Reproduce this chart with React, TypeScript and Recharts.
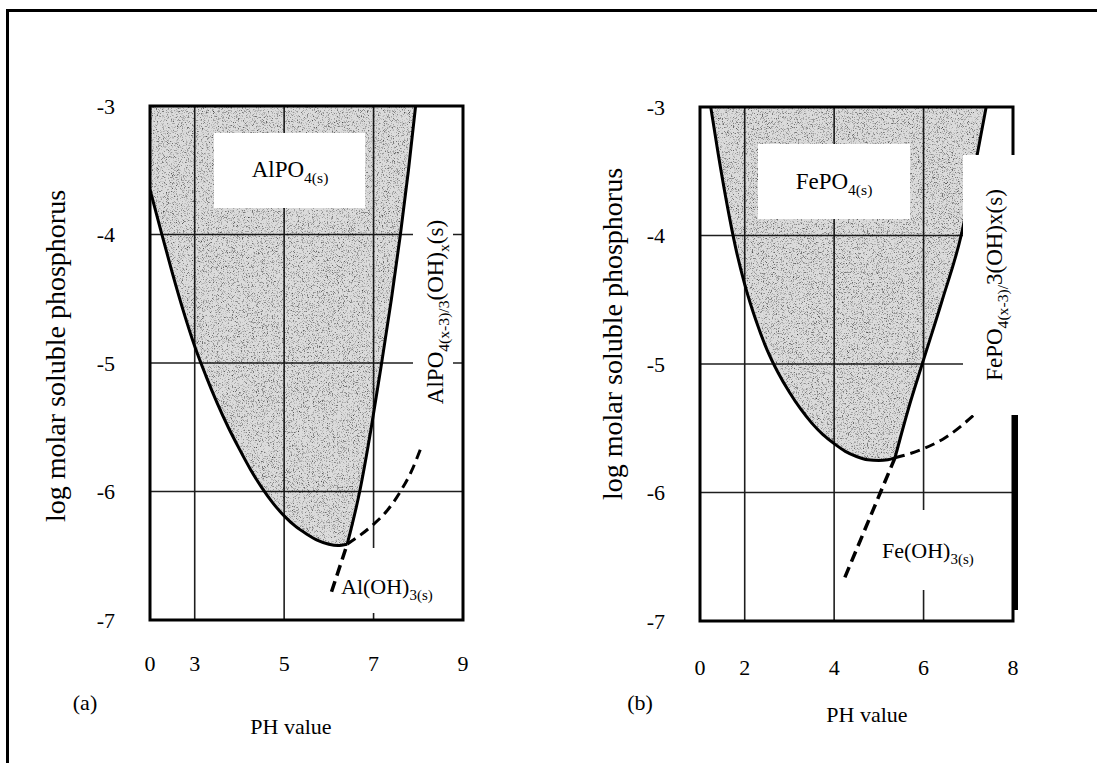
import React from 'react';
import {
  ComposedChart,
  Line,
  Area,
  XAxis,
  YAxis,
  CartesianGrid,
  ReferenceArea,
} from 'recharts';

const SERIF = "'Liberation Serif', 'Times New Roman', Times, serif";

// ---- shared axis values ----
const yTicks = [-7, -6, -5, -4, -3];
const yDomain: [number, number] = [-7, -3];

// ---- panel (a): aluminium phosphate ----
const xDomainA: [number, number] = [2, 9];
const xTicksA = [2, 3, 5, 7, 9];
const xTickLabelsA = ['0', '3', '5', '7', '9'];

// AlPO4(s) solubility curve (pH, log P)
const alPhosphateCurve: [number, number][] = [
  [2.0, -3.65], [2.25, -3.98], [2.5, -4.3], [2.75, -4.6], [3.0, -4.87],
  [3.25, -5.1], [3.5, -5.31], [3.75, -5.5], [4.0, -5.67], [4.25, -5.83],
  [4.5, -5.97], [4.75, -6.09], [5.0, -6.19], [5.25, -6.27], [5.5, -6.33],
  [5.75, -6.38], [6.0, -6.41], [6.2, -6.42], [6.41, -6.41],
];
// AlPO4 / hydroxyphosphate boundary
const alHydroxyBoundary: [number, number][] = [
  [6.41, -6.41], [6.69, -6.0], [6.95, -5.5], [7.18, -5.0], [7.4, -4.5],
  [7.6, -4.0], [7.78, -3.5], [7.94, -3.0],
];
// Al(OH)3(s) boundaries (dashed)
const alHydroxideRise: [number, number][] = [
  [6.41, -6.41], [6.95, -6.27], [7.3, -6.15], [7.6, -6.0], [7.85, -5.84], [8.06, -5.66],
];
const alHydroxideDrop: [number, number][] = [
  [6.06, -6.78], [6.41, -6.41],
];

// ---- panel (b): iron phosphate ----
const xDomainB: [number, number] = [1, 8];
const xTicksB = [1, 2, 4, 6, 8];
const xTickLabelsB = ['0', '2', '4', '6', '8'];

const fePhosphateCurve: [number, number][] = [
  [1.24, -3.0], [1.4, -3.35], [1.6, -3.75], [1.8, -4.1], [2.0, -4.38],
  [2.25, -4.66], [2.5, -4.89], [2.75, -5.07], [3.0, -5.22], [3.25, -5.35],
  [3.5, -5.46], [3.75, -5.55], [4.0, -5.62], [4.25, -5.68], [4.5, -5.72],
  [4.75, -5.745], [5.0, -5.75], [5.2, -5.745], [5.36, -5.73],
];
const feHydroxyBoundary: [number, number][] = [
  [5.36, -5.73], [5.66, -5.35], [5.97, -5.0], [6.42, -4.5], [6.84, -4.0],
  [7.13, -3.5], [7.4, -3.0],
];
const feHydroxideRise: [number, number][] = [
  [5.36, -5.73], [5.92, -5.67], [6.5, -5.57], [7.15, -5.39],
];
const feHydroxideDrop: [number, number][] = [
  [4.24, -6.66], [5.36, -5.73],
];

type Pts = [number, number][];

const rows = (pts: Pts) => pts.map(([ph, v]) => ({ ph, v }));

interface PanelProps {
  id: string;
  curve: Pts;
  boundary: Pts;
  rise: Pts;
  drop: Pts;
  xDomain: [number, number];
  xTicks: number[];
  xLabels: string[];
  xTickMargin: number;
}

function Panel(p: PanelProps) {
  // shaded stability field: from the lower boundary up to the top of the plot
  const band = [...p.curve, ...p.boundary.slice(1)].map(([ph, v]) => ({
    ph,
    band: [v, yDomain[1]],
  }));
  const tickStyle = { fill: '#000', fontSize: 22, fontFamily: SERIF };
  return (
    <ComposedChart
      width={560}
      height={763}
      margin={{ top: 106, right: 97, bottom: 103, left: 90 }}
    >
      <defs>
        <filter id={`grain-${p.id}`}>
          <feTurbulence
            type="fractalNoise"
            baseFrequency="1.2"
            numOctaves={2}
            seed={p.id === 'a' ? 4 : 11}
            stitchTiles="stitch"
          />
          <feColorMatrix
            type="matrix"
            values="0 0 0 0 0  0 0 0 0 0  0 0 0 0 0  -2.0 0 0 0 0.95"
          />
        </filter>
        <pattern
          id={`stipple-${p.id}`}
          patternUnits="userSpaceOnUse"
          x={0}
          y={0}
          width={560}
          height={763}
        >
          <rect width={560} height={763} fill="#000" fillOpacity={0.14} />
          <rect width={560} height={763} fill="#000" filter={`url(#grain-${p.id})`} />
        </pattern>
      </defs>
      <CartesianGrid stroke="#1e1e1e" strokeWidth={1.6} />
      <XAxis
        type="number"
        dataKey="ph"
        domain={p.xDomain}
        ticks={p.xTicks}
        interval={0}
        allowDataOverflow
        tickFormatter={(v: number) => p.xLabels[p.xTicks.indexOf(v)] ?? ''}
        axisLine={false}
        tickLine={false}
        tickSize={0}
        tickMargin={p.xTickMargin}
        height={40}
        tick={tickStyle}
      />
      <YAxis
        type="number"
        domain={yDomain}
        ticks={yTicks}
        interval={0}
        allowDataOverflow
        axisLine={false}
        tickLine={false}
        tickSize={0}
        tickMargin={35}
        width={60}
        tick={tickStyle}
      />
      <Area
        data={band}
        dataKey="band"
        type="monotone"
        stroke="none"
        fill={`url(#stipple-${p.id})`}
        fillOpacity={1}
        isAnimationActive={false}
      />
      <Line data={rows(p.curve)} dataKey="v" type="monotone" stroke="#000" strokeWidth={3} dot={false} isAnimationActive={false} />
      <Line data={rows(p.boundary)} dataKey="v" type="monotone" stroke="#000" strokeWidth={3} dot={false} isAnimationActive={false} />
      <Line data={rows(p.rise)} dataKey="v" type="monotone" stroke="#000" strokeWidth={3} strokeDasharray="10 6" dot={false} isAnimationActive={false} />
      <Line data={rows(p.drop)} dataKey="v" type="linear" stroke="#000" strokeWidth={3.5} strokeDasharray="11 6" dot={false} isAnimationActive={false} />
      <ReferenceArea
        x1={p.xDomain[0]}
        x2={p.xDomain[1]}
        y1={yDomain[0]}
        y2={yDomain[1]}
        fill="none"
        fillOpacity={0}
        stroke="#000"
        strokeWidth={3}
        ifOverflow="visible"
      />
    </ComposedChart>
  );
}

const abs = (o: React.CSSProperties): React.CSSProperties => ({ position: 'absolute', ...o });
const sub: React.CSSProperties = { fontSize: '0.68em', verticalAlign: '-0.38em' };

function Centered({ x, y, size, rotate, children }: { x: number; y: number; size: number; rotate?: boolean; children: React.ReactNode }) {
  return (
    <div
      style={abs({
        left: x,
        top: y,
        fontSize: size,
        fontFamily: SERIF,
        lineHeight: 1,
        whiteSpace: 'nowrap',
        transform: `translate(-50%, -50%)${rotate ? ' rotate(-90deg)' : ''}`,
      })}
    >
      {children}
    </div>
  );
}

function WhiteBox({ l, t, w, h }: { l: number; t: number; w: number; h: number }) {
  return <div style={abs({ left: l, top: t, width: w, height: h, background: '#fff' })} />;
}

export default function App() {
  return (
    <div
      style={abs({
        left: 0,
        top: 0,
        width: 1097,
        height: 763,
        overflow: 'hidden',
        background: '#fff',
        fontFamily: SERIF,
        color: '#000',
      })}
    >
      <div style={abs({ left: 6, top: 9, width: 1300, height: 900, borderLeft: '3px solid #000', borderTop: '3px solid #000' })} />

      <div style={abs({ left: 0, top: 0 })}>
        <Panel
          id="a"
          curve={alPhosphateCurve}
          boundary={alHydroxyBoundary}
          rise={alHydroxideRise}
          drop={alHydroxideDrop}
          xDomain={xDomainA}
          xTicks={xTicksA}
          xLabels={xTickLabelsA}
          xTickMargin={35}
        />
      </div>
      <div style={abs({ left: 550, top: 1 })}>
        <Panel
          id="b"
          curve={fePhosphateCurve}
          boundary={feHydroxyBoundary}
          rise={feHydroxideRise}
          drop={feHydroxideDrop}
          xDomain={xDomainB}
          xTicks={xTicksB}
          xLabels={xTickLabelsB}
          xTickMargin={38}
        />
      </div>

      {/* panel (a) annotations */}
      <WhiteBox l={214} t={133} w={151} h={75} />
      <Centered x={290} y={172} size={23}>
        AlPO<span style={sub}>4(s)</span>
      </Centered>
      <WhiteBox l={413} t={200} w={40} h={215} />
      <Centered x={438} y={312} size={23} rotate>
        AlPO<span style={sub}>4(x-3)/3</span>(OH)<span style={sub}>x</span>(s)
      </Centered>
      <WhiteBox l={356} t={548} w={90} h={65} />
      <div style={abs({ left: 341, top: 576, fontSize: 22, fontFamily: SERIF, lineHeight: 1, whiteSpace: 'nowrap' })}>
        Al(OH)<span style={sub}>3(s)</span>
      </div>
      <Centered x={56} y={356} size={28} rotate>
        log molar soluble phosphorus
      </Centered>
      <Centered x={291} y={727} size={22}>PH value</Centered>
      <Centered x={85} y={703} size={22}>(a)</Centered>

      {/* panel (b) annotations */}
      <WhiteBox l={758} t={144} w={152} h={75} />
      <Centered x={834} y={184} size={23}>
        FePO<span style={sub}>4(s)</span>
      </Centered>
      <WhiteBox l={963} t={155} w={70} h={260} />
      <Centered x={997} y={285} size={23} rotate>
        FePO<span style={sub}>4(x-3)/</span>3(OH)x(s)
      </Centered>
      <WhiteBox l={878} t={510} w={125} h={80} />
      <div style={abs({ left: 882, top: 540, fontSize: 22, fontFamily: SERIF, lineHeight: 1, whiteSpace: 'nowrap' })}>
        Fe(OH)<span style={sub}>3(s)</span>
      </div>
      <div style={abs({ left: 1014, top: 415, width: 4, height: 195, background: '#000' })} />
      <Centered x={613} y={334} size={28} rotate>
        log molar soluble phosphorus
      </Centered>
      <Centered x={867} y={715} size={22}>PH value</Centered>
      <Centered x={640} y={703} size={22}>(b)</Centered>
    </div>
  );
}
